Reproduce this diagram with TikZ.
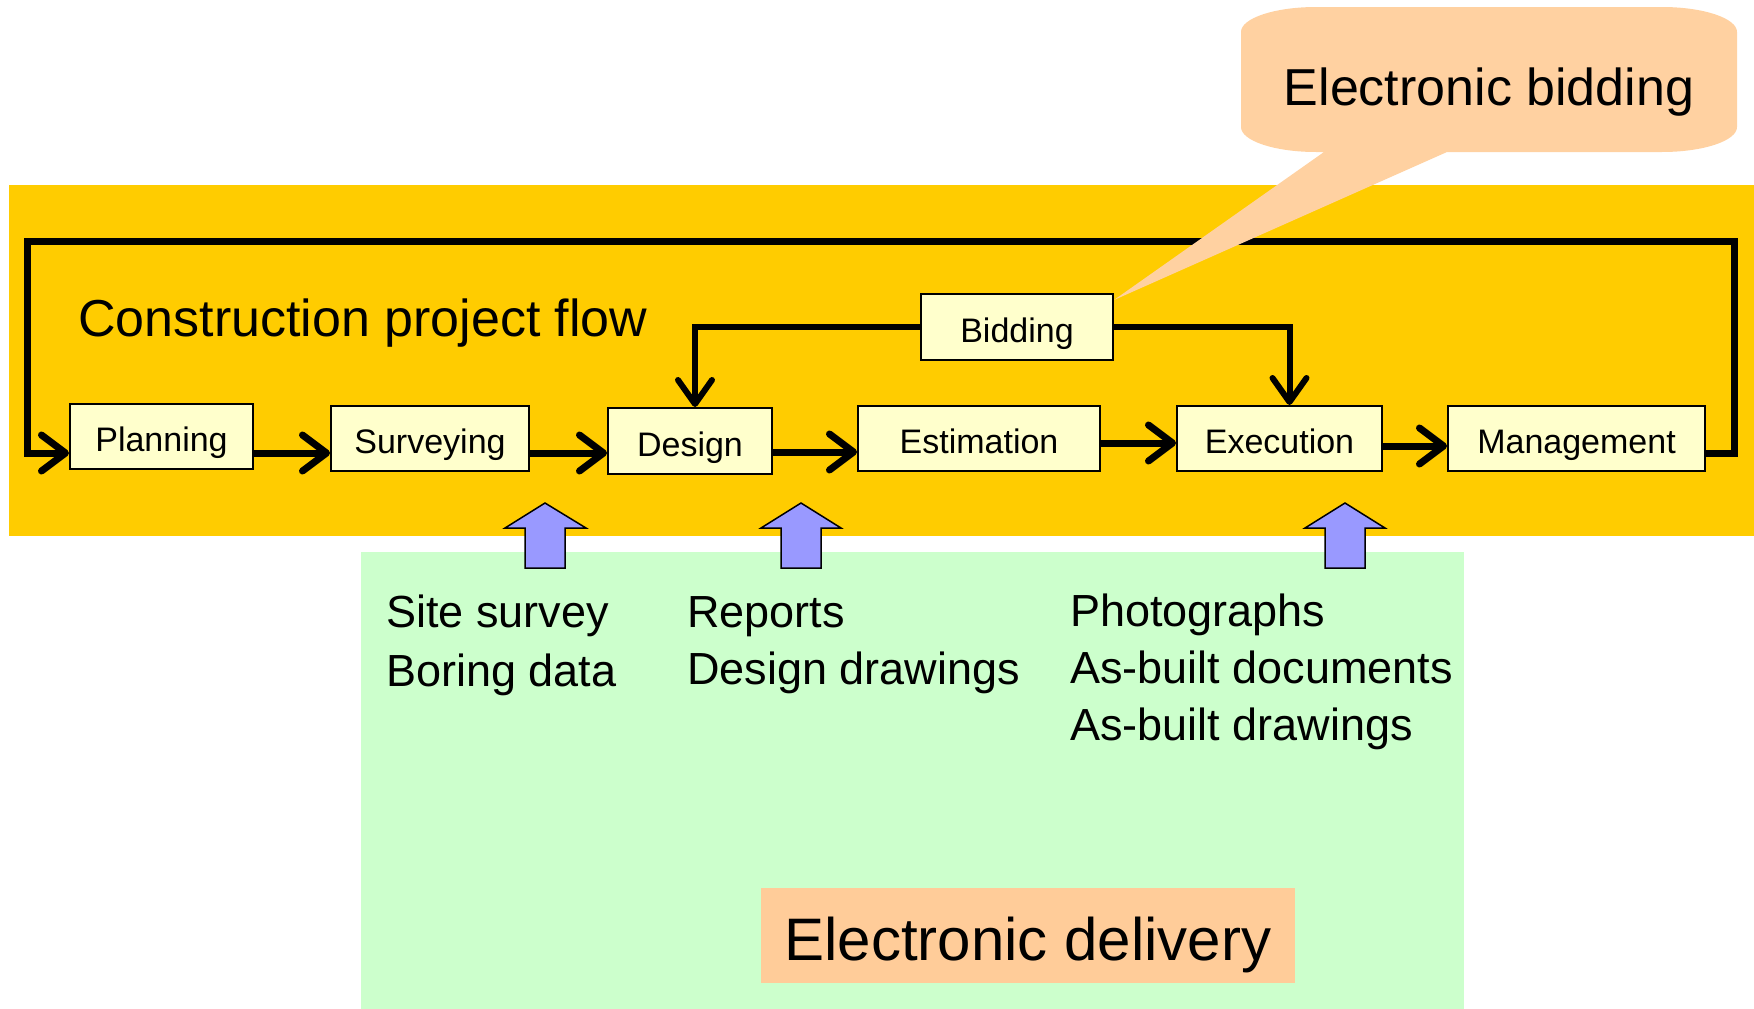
\documentclass[tikz,border=0pt]{standalone}
\usepackage{fontspec}
\setmainfont{Liberation Sans}
\usetikzlibrary{arrows.meta,calc}
\definecolor{bandyellow}{HTML}{FFCC00}
\definecolor{greenbg}{HTML}{CCFFCC}
\definecolor{boxfill}{HTML}{FFFFCC}
\definecolor{peach}{HTML}{FFCC99}
\definecolor{calloutpeach}{HTML}{FFD1A1}
\definecolor{lav}{HTML}{9999FF}
\tikzset{
  stepbox/.style={draw=black, line width=2pt, fill=boxfill, inner sep=0pt,
    font=\fontsize{34}{40}\selectfont, text height=30pt, text depth=0pt},
  flow/.style={line width=7pt, line join=miter, -{Straight Barb[length=24pt,width=36pt,round]}},
  flowthin/.style={line width=6pt, line join=miter, -{Straight Barb[length=24pt,width=34pt,round]}},
  listtxt/.style={anchor=base west, inner sep=0pt, font=\fontsize{45}{50}\selectfont},
  uparrow/.style={draw=black, line width=1.5pt, fill=lav, line join=miter},
}
\begin{document}
\begin{tikzpicture}[x=1pt, y=-1pt]
\useasboundingbox (0,0) rectangle (1754,1009);
% backgrounds
\fill[bandyellow] (9,185) rectangle (1754,536);
\fill[greenbg] (361,552) rectangle (1464,1009);

% boxes
\node[stepbox, minimum width=183pt, minimum height=65pt] (plan) at (161.5,436.5) {Planning};
\node[stepbox, minimum width=198pt, minimum height=65pt] (surv) at (430,438.5) {Surveying};
\node[stepbox, minimum width=164pt, minimum height=66pt] (des) at (690,441) {Design};
\node[stepbox, minimum width=242pt, minimum height=65pt] (est) at (979,438.5) {Estimation};
\node[stepbox, minimum width=205pt, minimum height=65pt] (exe) at (1279.5,438.5) {Execution};
\node[stepbox, minimum width=257pt, minimum height=65pt] (mgmt) at (1576.5,438.5) {Management};
\node[stepbox, minimum width=192pt, minimum height=66pt] (bid) at (1017,327) {Bidding};

\node[anchor=base west, inner sep=0pt, font=\fontsize{52}{60}\selectfont] (cpf) at (78,336) {Construction project flow};

% helper coordinates
\coordinate (yA) at (0,453);
\coordinate (yB) at (0,452);
\coordinate (yC) at (0,443);
\coordinate (yD) at (0,446);
\coordinate (ctr) at (1734,241);
\coordinate (ctl) at (27,453);

% flow arrows
\draw[flow] (plan.east |- yA) -- (surv.west |- yA);
\draw[flow] (surv.east |- yA) -- (des.west |- yA);
\draw[flow] (des.east |- yB) -- (est.west |- yB);
\draw[flow] (est.east |- yC) -- (exe.west |- yC);
\draw[flow] (exe.east |- yD) -- (mgmt.west |- yD);
\draw[flow] (mgmt.east |- yA) -| (ctr) -| (ctl) -- (plan.west |- yA);

% bidding arrows
\draw[flowthin] (bid.west) -| ($(des.north)+(5,0)$);
\draw[flowthin] (bid.east) -| ($(exe.north)+(10,0)$);

% up arrows
\draw[uparrow] (545,503) -- (586,528) -- (565,528) -- (565,568) -- (525,568) -- (525,528) -- (505,528) -- cycle;
\draw[uparrow] (801,503) -- (841,528) -- (821,528) -- (821,568) -- (781,568) -- (781,528) -- (761,528) -- cycle;
\draw[uparrow] (1345,503) -- (1385,528) -- (1365,528) -- (1365,568) -- (1325,568) -- (1325,528) -- (1305,528) -- cycle;

% lists
\node[listtxt] (t1) at (386,627) {Site survey};
\node[listtxt] (t2) at (386,686) {Boring data};
\node[listtxt] (t3) at (687,627) {Reports};
\node[listtxt] (t4) at (687,684) {Design drawings};
\node[listtxt] (t5) at (1070,626) {Photographs};
\node[listtxt] (t6) at (1070,683) {As-built documents};
\node[listtxt] (t7) at (1070,740) {As-built drawings};

% electronic delivery
\node[fill=peach, minimum width=534pt, minimum height=95pt, inner sep=0pt,
  font=\fontsize{60}{70}\selectfont, text height=50pt, text depth=0pt] (edel) at (1028,935.5) {Electronic delivery};

% callout
\fill[calloutpeach] (1316,7) -- (1662,7)
  .. controls (1703.4,7) and (1737,18.2) .. (1737,32)
  -- (1737,127)
  .. controls (1737,140.8) and (1703.4,152) .. (1662,152)
  -- (1447,152) -- (1114,300) -- (1324,152) -- (1316,152)
  .. controls (1274.6,152) and (1241,140.8) .. (1241,127)
  -- (1241,32)
  .. controls (1241,18.2) and (1274.6,7) .. (1316,7) -- cycle;
\node[anchor=base, inner sep=0pt, font=\fontsize{52}{60}\selectfont] (ebid) at (1489,105) {Electronic bidding};
\end{tikzpicture}
\end{document}
